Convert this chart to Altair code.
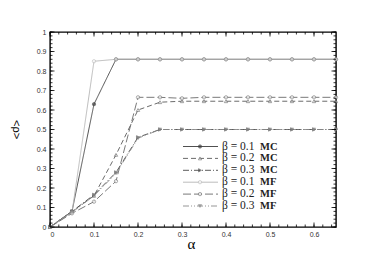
import altair as alt
import pandas as pd

alpha = [0, 0.05, 0.1, 0.15, 0.2, 0.25, 0.3, 0.35, 0.4, 0.45, 0.5, 0.55, 0.6, 0.65]
b01_mc = [0, 0.08, 0.63, 0.86, 0.86, 0.86, 0.86, 0.86, 0.86, 0.86, 0.86, 0.86, 0.86, 0.86]
b02_mc = [0, 0.08, 0.16, 0.37, 0.60, 0.64, 0.645, 0.645, 0.645, 0.645, 0.645, 0.645, 0.645, 0.645]
b03_mc = [0, 0.08, 0.165, 0.28, 0.46, 0.50, 0.50, 0.50, 0.50, 0.50, 0.50, 0.50, 0.50, 0.50]
b01_mf = [0, 0.075, 0.85, 0.86, 0.86, 0.86, 0.86, 0.86, 0.86, 0.86, 0.86, 0.86, 0.86, 0.86]
b02_mf = [0, 0.07, 0.13, 0.235, 0.665, 0.665, 0.66, 0.665, 0.665, 0.665, 0.665, 0.665, 0.665, 0.665]
b03_mf = [0, 0.075, 0.16, 0.275, 0.455, 0.50, 0.50, 0.50, 0.50, 0.50, 0.50, 0.50, 0.50, 0.50]

series_names = ["b01MC", "b02MC", "b03MC", "b01MF", "b02MF", "b03MF"]
series_beta = ["\u03b2 = 0.1", "\u03b2 = 0.2", "\u03b2 = 0.3", "\u03b2 = 0.1", "\u03b2 = 0.2", "\u03b2 = 0.3"]
series_method = ["MC", "MC", "MC", "MF", "MF", "MF"]
series_values = [b01_mc, b02_mc, b03_mc, b01_mf, b02_mf, b03_mf]

x_major = [0, 0.1, 0.2, 0.3, 0.4, 0.5, 0.6]
y_major = [0, 0.1, 0.2, 0.3, 0.4, 0.5, 0.6, 0.7, 0.8, 0.9, 1]
x_minor = [round(i * 0.02, 2) for i in range(33)]
y_minor = [round(i * 0.02, 2) for i in range(51)]

W, H = 286, 195

rows = []
for name, vals in zip(series_names, series_values):
    for a, r in zip(alpha, vals):
        rows.append({"alpha": a, "rho": r, "series": name})
df = pd.DataFrame(rows)

colors = ["#3c3c3c", "#5a5a5a", "#4a4a4a", "#b4b4b4", "#6a6a6a", "#8a8a8a"]
fills = ["#3c3c3c", "#ffffff", "#4a4a4a", "#ffffff", "#ffffff", "#8a8a8a"]
dashes = [[1, 0], [5, 3], [6, 2, 1, 2], [1, 0], [8, 3], [6, 2, 1, 2, 1, 2]]
shapes = ["circle", "triangle-up", "triangle-right", "circle", "circle", "triangle-down"]

xs = alt.Scale(domain=[0, 0.65], nice=False, zero=False)
ys = alt.Scale(domain=[0, 1], nice=False, zero=False)
col_s = alt.Scale(domain=series_names, range=colors)
fill_s = alt.Scale(domain=series_names, range=fills)
dash_s = alt.Scale(domain=series_names, range=dashes)
shape_s = alt.Scale(domain=series_names, range=shapes)

lab_font = "Liberation Sans"
x_axis = alt.Axis(values=x_major, format="~g", tickSize=0, domain=False, grid=False,
                  labelFontSize=7, labelColor="#333", labelPadding=3, labelFont=lab_font,
                  labelOverlap=False,
                  title="\u03b1", titleFont="Liberation Serif", titleFontSize=15,
                  titleFontWeight="normal", titleX=141, titleY=16, titleBaseline="middle",
                  titleAlign="center")
y_axis = alt.Axis(values=y_major, format="~g", tickSize=0, domain=False, grid=False,
                  labelFontSize=7, labelColor="#333", labelPadding=4, labelFont=lab_font,
                  labelOverlap=False,
                  title="<\u03c1>", titleFont=lab_font, titleFontSize=11,
                  titleFontWeight="normal", titleX=-35, titleY=97, titleAngle=90,
                  titleBaseline="middle", titleAlign="center")

def X(field):
    return alt.X(field, scale=xs, axis=x_axis, title="\u03b1")

def Y(field):
    return alt.Y(field, scale=ys, axis=y_axis, title="<\u03c1>")

lines = alt.Chart(df).mark_line(strokeWidth=0.9).encode(
    x=X("alpha:Q"),
    y=Y("rho:Q"),
    color=alt.Color("series:N", scale=col_s, legend=None),
    strokeDash=alt.StrokeDash("series:N", scale=dash_s, legend=None),
    detail="series:N",
)
points = alt.Chart(df).mark_point(filled=True, size=11, strokeWidth=0.8).encode(
    x=X("alpha:Q"),
    y=Y("rho:Q"),
    fill=alt.Fill("series:N", scale=fill_s, legend=None),
    stroke=alt.Stroke("series:N", scale=col_s, legend=None),
    shape=alt.Shape("series:N", scale=shape_s, legend=None),
)

xt_major = pd.DataFrame({"alpha": x_major})
xt_minor = pd.DataFrame({"alpha": x_minor})
yt_major = pd.DataFrame({"rho": y_major})
yt_minor = pd.DataFrame({"rho": y_minor})

def xticks(d, L):
    bot = alt.Chart(d).mark_rule(color="black", strokeWidth=0.8).encode(
        x=X("alpha:Q"), y=alt.value(H), y2=alt.value(H - L))
    top = alt.Chart(d).mark_rule(color="black", strokeWidth=0.8).encode(
        x=X("alpha:Q"), y=alt.value(0), y2=alt.value(L))
    return [bot, top]

def yticks(d, L):
    left = alt.Chart(d).mark_rule(color="black", strokeWidth=0.8).encode(
        y=Y("rho:Q"), x=alt.value(0), x2=alt.value(L))
    right = alt.Chart(d).mark_rule(color="black", strokeWidth=0.8).encode(
        y=Y("rho:Q"), x=alt.value(W), x2=alt.value(W - L))
    return [left, right]

legend_layers = []
for i, (name, beta, meth) in enumerate(zip(series_names, series_beta, series_method)):
    py = 114.5 + i * 11.9
    d = pd.DataFrame({"series": [name], "beta": [beta], "method": [meth]})
    base = alt.Chart(d)
    legend_layers.append(base.mark_rule(strokeWidth=0.9).encode(
        x=alt.value(133), x2=alt.value(168), y=alt.value(py),
        color=alt.Color("series:N", scale=col_s, legend=None),
        strokeDash=alt.StrokeDash("series:N", scale=dash_s, legend=None)))
    legend_layers.append(base.mark_point(filled=True, size=11, strokeWidth=0.8).encode(
        x=alt.value(150), y=alt.value(py),
        fill=alt.Fill("series:N", scale=fill_s, legend=None),
        stroke=alt.Stroke("series:N", scale=col_s, legend=None),
        shape=alt.Shape("series:N", scale=shape_s, legend=None)))
    legend_layers.append(base.mark_text(align="left", baseline="middle", font="Liberation Serif",
                                        fontSize=11.5, color="#222").encode(
        x=alt.value(172), y=alt.value(py), text="beta:N"))
    legend_layers.append(base.mark_text(align="left", baseline="middle", font="Liberation Serif",
                                        fontSize=10.5, fontWeight="bold", color="#222").encode(
        x=alt.value(210), y=alt.value(py), text="method:N"))

chart = alt.layer(
    lines, points,
    *xticks(xt_minor, 2.5), *xticks(xt_major, 4.5),
    *yticks(yt_minor, 2.5), *yticks(yt_major, 4.5),
    *legend_layers,
).properties(
    width=W, height=H,
    autosize=alt.AutoSizeParams(type="none"),
    padding={"left": 42, "top": 24, "right": 30, "bottom": 28},
    background="white",
).configure_view(stroke="black", strokeWidth=1.4)

chart.save("out.html", embed_options={"renderer": "svg", "actions": False})
